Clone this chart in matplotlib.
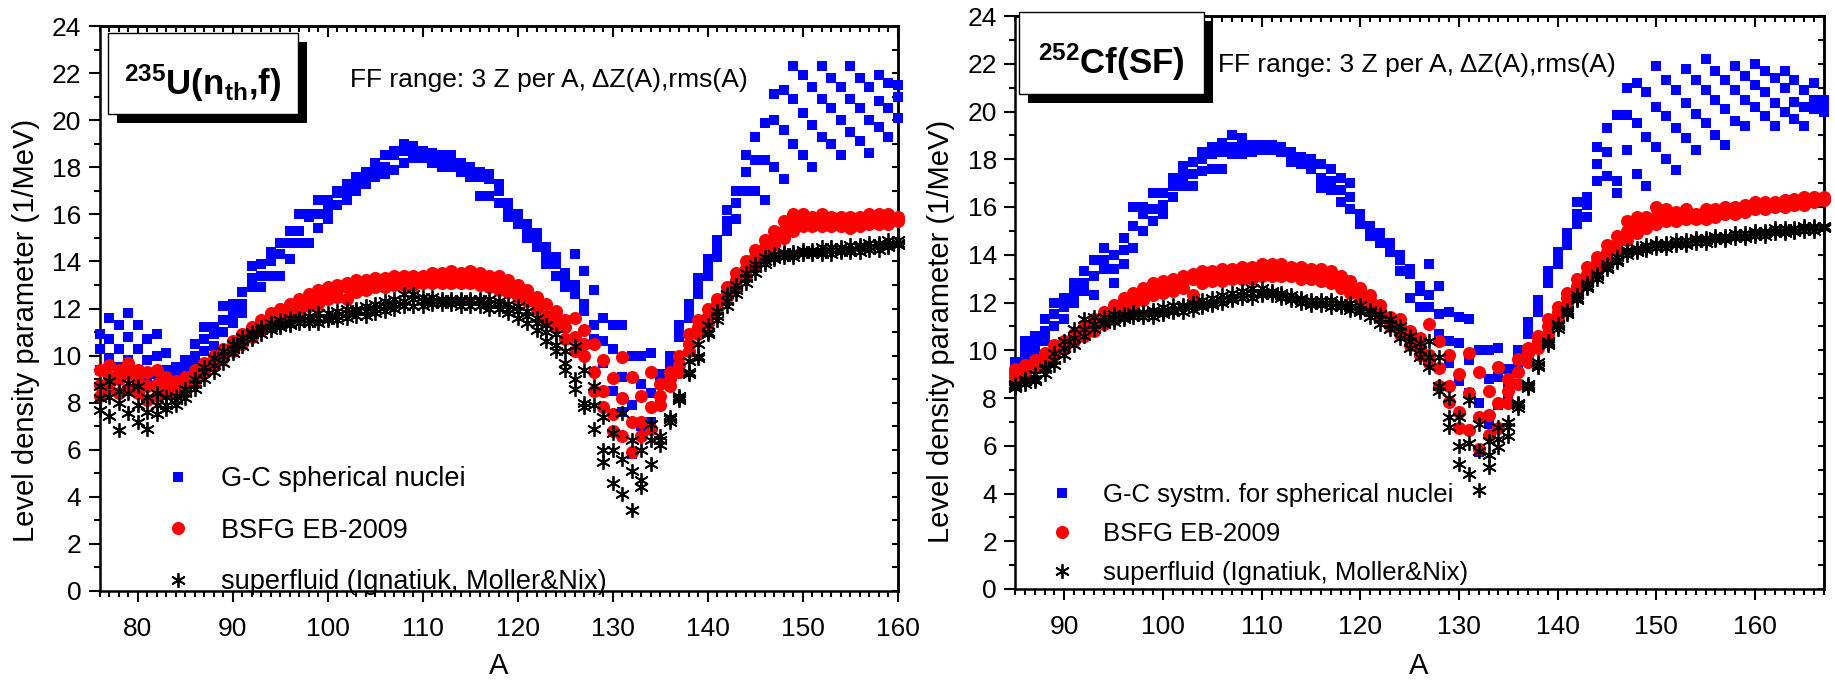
import numpy as np
import matplotlib
matplotlib.use("Agg")
import matplotlib.pyplot as plt
from matplotlib.ticker import MultipleLocator, NullFormatter
from matplotlib.patches import Rectangle

plt.rcParams["font.family"] = ["Liberation Sans", "DejaVu Sans"]
plt.rcParams["mathtext.fontset"] = "custom"
plt.rcParams["mathtext.rm"] = "Liberation Sans"
plt.rcParams["mathtext.bf"] = "Liberation Sans:bold"

W, H = 1835, 681

# ---- 235U(nth,f): level density parameter (1/MeV) vs A, three Z per A ----
u_A = np.arange(76, 161)

u_gc_z1 = [10.9, 11.6, 11.3, 11.8, 11.3, 10.7, 10.9, 10.1, 9.5, 9.8,
           10.5, 11.2, 11.2, 12.1, 12.2, 12.7, 13.8, 13.9, 14.4, 14.8,
           15.3, 16.0, 16.0, 16.6, 16.6, 17.0, 17.3, 17.6, 17.8, 18.2,
           18.5, 18.7, 19.0, 18.9, 18.7, 18.6, 18.5, 18.5, 18.2, 18.0,
           17.8, 17.7, 17.3, 16.5, 16.0, 15.6, 15.2, 14.6, 14.2, 13.5,
           14.3, 13.6, 12.8, 11.6, 11.3, 11.3, 10.0, 10.0, 10.1, 9.2,
           10.0, 11.3, 12.2, 13.3, 14.1, 14.9, 16.2, 17.0, 18.5, 19.3,
           19.9, 21.1, 21.3, 22.3, 21.9, 21.4, 22.3, 21.8, 21.4, 22.3,
           21.8, 21.4, 21.9, 21.6, 21.5]
u_gc_z2 = [10.3, 10.7, 10.3, 10.8, 10.3, 9.8, 10.0, 9.4, 9.2, 9.4,
           10.0, 10.7, 10.9, 11.5, 11.8, 12.2, 13.3, 13.4, 14.0, 14.3,
           14.8, 15.3, 15.9, 16.0, 16.2, 16.9, 17.0, 17.3, 17.6, 18.0,
           18.0, 18.5, 18.7, 18.6, 18.5, 18.5, 18.3, 18.2, 18.0, 17.8,
           17.6, 17.5, 17.0, 16.2, 15.8, 15.3, 14.9, 14.3, 13.9, 13.3,
           13.0, 12.2, 11.3, 10.6, 10.3, 9.1, 7.9, 8.8, 8.4, 8.8,
           9.6, 11.2, 11.9, 13.0, 13.8, 14.6, 15.7, 16.5, 17.8, 18.3,
           18.3, 20.0, 19.6, 20.9, 20.3, 19.8, 20.9, 20.5, 20.0, 20.9,
           20.5, 20.0, 20.8, 20.5, 21.0]
u_gc_z3 = [9.4, 9.9, 9.5, 9.8, 9.4, 9.0, 9.2, 8.8, 8.9, 9.1,
           9.6, 10.2, 10.4, 11.0, 11.4, 11.8, 12.9, 12.9, 13.4, 13.4,
           14.1, 14.8, 14.8, 15.4, 15.8, 16.4, 16.6, 17.0, 17.3, 17.6,
           17.7, 17.9, 18.2, 18.4, 18.4, 18.2, 18.0, 18.0, 17.8, 17.6,
           16.8, 16.8, 16.5, 15.9, 15.6, 15.0, 14.6, 13.9, 13.4, 12.9,
           12.6, 11.9, 10.7, 9.7, 8.5, 7.6, 5.8, 7.0, 7.2, 8.2,
           9.2, 10.8, 11.6, 12.6, 13.4, 14.2, 15.3, 15.8, 17.0, 17.0,
           16.6, 18.0, 17.5, 19.0, 18.5, 18.0, 19.3, 19.0, 18.5, 19.5,
           19.1, 18.6, 19.7, 19.3, 20.1]

u_bsfg_z1 = [9.4, 9.6, 9.4, 9.7, 9.4, 9.3, 9.4, 9.1, 8.9, 9.1,
             9.4, 9.7, 10.0, 10.3, 10.6, 10.9, 11.2, 11.5, 11.8, 12.0,
             12.2, 12.4, 12.6, 12.8, 12.9, 13.0, 13.1, 13.2, 13.2, 13.3,
             13.3, 13.4, 13.4, 13.4, 13.4, 13.5, 13.5, 13.6, 13.5, 13.6,
             13.5, 13.4, 13.4, 13.2, 13.0, 12.8, 12.5, 12.2, 11.9, 11.5,
             11.6, 11.1, 10.5, 9.8, 9.05, 9.95, 9.1, 8.3, 9.3, 8.8,
             9.3, 10.0, 10.9, 11.5, 12.0, 12.4, 12.9, 13.5, 14.0, 14.5,
             14.9, 15.3, 15.7, 16.0, 16.0, 15.9, 16.0, 15.9, 15.9, 15.9,
             15.9, 16.0, 16.0, 16.0, 15.9]
u_bsfg_z2 = [8.75, 9.1, 9.0, 9.2, 8.9, 8.7, 8.8, 8.7, 8.6, 8.8,
             9.1, 9.5, 9.8, 10.1, 10.4, 10.7, 11.0, 11.3, 11.5, 11.8,
             12.0, 12.2, 12.4, 12.5, 12.7, 12.8, 12.9, 13.0, 13.1, 13.1,
             13.2, 13.2, 13.2, 13.3, 13.3, 13.3, 13.3, 13.4, 13.3, 13.4,
             13.3, 13.2, 13.1, 13.0, 12.8, 12.6, 12.2, 11.7, 11.7, 11.2,
             10.8, 10.5, 9.3, 8.5, 7.5, 8.2, 7.2, 7.2, 7.8, 8.3,
             9.0, 9.6, 10.5, 11.2, 11.7, 12.2, 12.7, 13.2, 13.7, 14.2,
             14.6, 15.0, 15.3, 15.6, 15.7, 15.7, 15.8, 15.7, 15.7, 15.7,
             15.8, 15.8, 15.8, 15.8, 15.8]
u_bsfg_z3 = [8.3, 8.6, 8.4, 8.6, 8.4, 8.1, 8.3, 8.4, 8.4, 8.6,
             8.9, 9.3, 9.6, 9.9, 10.2, 10.5, 10.8, 11.1, 11.3, 11.5,
             11.7, 11.9, 12.1, 12.2, 12.4, 12.5, 12.4, 12.7, 12.8, 12.9,
             12.9, 13.0, 13.0, 13.0, 13.1, 13.1, 13.1, 13.1, 13.1, 13.1,
             13.0, 12.9, 12.8, 12.7, 12.5, 12.3, 12.0, 11.5, 11.2, 10.7,
             10.2, 10.0, 8.5, 7.8, 6.8, 6.6, 5.9, 6.6, 6.9, 7.9,
             8.7, 9.3, 10.2, 10.9, 11.4, 12.0, 12.5, 12.9, 13.4, 13.9,
             14.3, 14.7, 15.0, 15.3, 15.5, 15.5, 15.5, 15.5, 15.5, 15.4,
             15.5, 15.6, 15.6, 15.6, 15.7]

u_sf_z1 = [8.7, 8.9, 8.5, 8.85, 8.7, 8.25, 8.4, 8.25, 8.3, 8.6,
           9.0, 9.5, 9.9, 10.2, 10.5, 10.8, 11.0, 11.2, 11.4, 11.5,
           11.6, 11.6, 11.7, 11.8, 11.8, 11.9, 12.0, 12.0, 12.1, 12.2,
           12.3, 12.4, 12.6, 12.6, 12.5, 12.5, 12.4, 12.4, 12.4, 12.4,
           12.4, 12.4, 12.3, 12.2, 12.1, 11.9, 11.6, 11.3, 10.9, 10.2,
           10.4, 9.4, 8.7, 7.4, 6.7, 7.55, 6.4, 6.0, 7.1, 6.6,
           7.4, 8.3, 9.75, 10.5, 11.3, 11.9, 12.6, 13.0, 13.5, 13.9,
           14.2, 14.3, 14.4, 14.4, 14.5, 14.5, 14.6, 14.6, 14.6, 14.7,
           14.7, 14.8, 14.8, 14.9, 14.9]
u_sf_z2 = [8.2, 8.25, 8.0, 8.4, 7.9, 7.6, 7.9, 7.9, 8.1, 8.4,
           8.8, 9.3, 9.6, 10.0, 10.3, 10.6, 10.9, 11.1, 11.2, 11.3,
           11.4, 11.5, 11.5, 11.6, 11.6, 11.7, 11.8, 11.9, 11.9, 12.0,
           12.1, 12.2, 12.3, 12.4, 12.3, 12.3, 12.3, 12.3, 12.3, 12.3,
           12.3, 12.2, 12.2, 12.0, 11.9, 11.7, 11.4, 11.0, 10.45, 9.7,
           9.0, 8.0, 7.9, 6.0, 6.0, 5.6, 5.1, 4.7, 6.4, 6.4,
           7.3, 8.2, 9.3, 10.0, 11.0, 11.7, 12.3, 12.8, 13.3, 13.7,
           14.0, 14.2, 14.3, 14.3, 14.4, 14.4, 14.4, 14.5, 14.5, 14.5,
           14.6, 14.6, 14.7, 14.7, 14.8]
u_sf_z3 = [7.7, 7.45, 6.85, 7.55, 7.2, 6.9, 7.5, 7.75, 7.9, 8.2,
           8.6, 9.0, 9.3, 9.7, 10.1, 10.4, 10.7, 10.9, 11.1, 11.2,
           11.3, 11.4, 11.4, 11.4, 11.5, 11.5, 11.6, 11.7, 11.7, 11.8,
           11.9, 12.0, 12.1, 12.1, 12.1, 12.2, 12.2, 12.2, 12.1, 12.1,
           12.1, 12.0, 12.0, 11.8, 11.6, 11.4, 11.1, 10.6, 10.2, 9.4,
           8.6, 7.8, 6.9, 5.5, 4.6, 4.1, 3.45, 4.4, 5.4, 6.2,
           7.2, 8.1, 9.2, 9.9, 10.9, 11.5, 12.1, 12.6, 13.1, 13.5,
           13.9, 14.1, 14.2, 14.2, 14.3, 14.3, 14.3, 14.3, 14.4, 14.4,
           14.4, 14.5, 14.5, 14.6, 14.7]

# ---- 252Cf(SF) ----
c_A = np.arange(85, 168)

c_gc_z1 = [9.5, 10.4, 10.6, 11.3, 12.0, 12.2, 12.8, 13.3, 13.8, 14.3,
           14.0, 14.7, 16.0, 16.0, 16.6, 16.6, 17.2, 17.7, 17.9, 18.3,
           18.5, 18.7, 19.0, 18.9, 18.6, 18.6, 18.6, 18.5, 18.3, 18.1,
           18.0, 17.8, 17.6, 17.2, 17.0, 15.7, 15.2, 14.9, 14.5, 14.0,
           13.4, 12.7, 13.6, 12.7, 11.6, 11.4, 11.3, 10.0, 10.0, 10.1,
           9.2, 10.0, 11.2, 12.1, 13.3, 14.1, 14.9, 16.2, 16.4, 18.5,
           19.3, 19.85, 21.0, 21.2, 20.8, 21.9, 21.3, 20.9, 21.8, 21.3,
           22.2, 21.7, 21.3, 21.9, 21.5, 22.0, 21.7, 21.4, 21.7, 21.3,
           20.9, 21.2, 20.5]
c_gc_z2 = [9.3, 10.0, 10.3, 10.8, 11.5, 11.8, 12.4, 12.8, 13.1, 13.8,
           13.4, 14.2, 15.2, 15.7, 15.9, 16.1, 16.9, 17.3, 17.4, 18.0,
           18.2, 18.3, 18.5, 18.5, 18.4, 18.5, 18.5, 18.4, 18.1, 18.0,
           17.8, 17.2, 17.1, 16.7, 16.4, 15.5, 15.0, 14.7, 14.3, 13.8,
           13.2, 12.5, 12.3, 11.5, 10.4, 10.3, 9.6, 7.8, 8.8, 8.9,
           8.6, 9.6, 11.0, 11.9, 13.1, 13.9, 14.7, 15.7, 16.1, 17.8,
           18.3, 17.1, 19.85, 19.5, 18.95, 20.2, 19.8, 19.3, 20.35, 19.9,
           20.9, 20.5, 20.1, 20.9, 20.5, 21.1, 20.8, 20.35, 21.0, 20.4,
           20.2, 20.5, 20.2]
c_gc_z3 = [9.1, 9.6, 9.9, 10.4, 11.0, 11.3, 12.0, 12.5, 12.3, 13.4,
           12.8, 13.6, 14.3, 15.0, 15.4, 15.7, 16.4, 16.9, 16.9, 17.5,
           17.6, 17.6, 18.2, 18.2, 18.3, 18.4, 18.4, 18.3, 17.9, 17.8,
           17.6, 16.8, 16.7, 16.2, 15.9, 15.3, 14.8, 14.5, 14.1, 13.3,
           12.2, 11.8, 11.8, 10.7, 9.45, 8.7, 8.2, 5.75, 6.9, 7.7,
           8.1, 9.3, 10.7, 11.6, 12.8, 13.6, 14.4, 15.3, 15.6, 17.1,
           17.3, 16.6, 18.4, 17.4, 16.9, 18.5, 18.0, 17.55, 18.9, 18.4,
           19.5, 19.0, 18.6, 19.6, 19.4, 20.2, 19.8, 19.4, 20.0, 19.7,
           19.4, 20.1, 20.0]

c_bsfg_z1 = [9.2, 9.4, 9.6, 9.9, 10.2, 10.4, 10.7, 11.0, 11.3, 11.6,
             11.9, 12.2, 12.4, 12.6, 12.8, 12.9, 13.0, 13.1, 13.2, 13.3,
             13.3, 13.4, 13.4, 13.5, 13.5, 13.6, 13.6, 13.6, 13.5, 13.5,
             13.4, 13.4, 13.3, 13.1, 12.9, 12.6, 12.3, 11.9, 11.4, 11.3,
             10.8, 10.5, 11.1, 10.4, 9.8, 9.0, 9.9, 9.1, 8.3, 9.3,
             8.8, 9.65, 10.1, 10.6, 11.3, 11.8, 12.4, 13.0, 13.5, 13.9,
             14.4, 14.8, 15.4, 15.6, 15.6, 16.0, 15.9, 15.8, 15.9, 15.7,
             15.9, 15.9, 16.0, 16.0, 16.1, 16.2, 16.2, 16.2, 16.3, 16.35,
             16.4, 16.4, 16.4]
c_bsfg_z2 = [9.1, 9.2, 9.5, 9.7, 10.0, 10.3, 10.6, 10.8, 11.1, 11.4,
             11.7, 11.9, 12.2, 12.4, 12.6, 12.7, 12.8, 12.9, 13.0, 13.1,
             13.1, 13.2, 13.2, 13.3, 13.3, 13.4, 13.4, 13.4, 13.3, 13.3,
             13.2, 13.2, 13.1, 12.9, 12.7, 12.4, 12.1, 11.7, 11.2, 11.0,
             10.5, 10.1, 9.8, 9.25, 8.5, 7.4, 8.2, 7.2, 7.3, 7.8,
             8.3, 9.1, 9.9, 10.4, 11.0, 11.6, 12.2, 12.7, 13.2, 13.7,
             14.1, 14.5, 15.0, 15.2, 15.3, 15.6, 15.6, 15.6, 15.7, 15.6,
             15.7, 15.8, 15.8, 15.9, 15.9, 16.0, 16.0, 16.1, 16.1, 16.2,
             16.2, 16.3, 16.35]
c_bsfg_z3 = [8.9, 9.0, 9.3, 9.5, 9.8, 10.1, 10.4, 10.6, 10.8, 11.1,
             11.3, 11.6, 11.8, 12.1, 12.3, 12.4, 12.5, 12.6, 12.3, 12.8,
             12.9, 12.9, 13.0, 13.0, 13.0, 13.1, 13.1, 13.1, 13.1, 13.0,
             13.0, 12.9, 12.8, 12.6, 12.4, 12.1, 11.8, 11.4, 11.0, 10.7,
             10.2, 9.8, 9.45, 8.5, 7.85, 6.75, 6.65, 5.85, 6.45, 6.75,
             7.8, 8.6, 9.5, 10.1, 10.7, 11.3, 11.9, 12.4, 12.9, 13.4,
             13.8, 14.2, 14.6, 14.9, 15.1, 15.3, 15.4, 15.4, 15.5, 15.5,
             15.5, 15.6, 15.7, 15.7, 15.8, 15.9, 15.9, 16.0, 16.0, 16.1,
             16.1, 16.2, 16.3]

c_sf_z1 = [8.6, 8.8, 9.0, 9.3, 9.9, 10.4, 10.9, 11.3, 11.4, 11.4,
           11.5, 11.5, 11.6, 11.6, 11.7, 11.8, 11.9, 11.9, 12.0, 12.1,
           12.2, 12.3, 12.4, 12.5, 12.6, 12.6, 12.5, 12.4, 12.3, 12.2,
           12.1, 12.1, 12.1, 12.0, 12.0, 11.9, 11.7, 11.5, 11.3, 11.0,
           10.6, 10.3, 10.4, 9.7, 8.0, 7.2, 7.9, 6.9, 6.2, 6.8,
           7.0, 7.8, 8.6, 9.5, 10.4, 11.1, 11.7, 12.3, 12.8, 13.2,
           13.6, 13.9, 14.2, 14.3, 14.4, 14.5, 14.5, 14.6, 14.6, 14.7,
           14.7, 14.8, 14.8, 14.9, 14.9, 15.0, 15.0, 15.1, 15.1, 15.1,
           15.2, 15.2, 15.2]
c_sf_z2 = [8.5, 8.7, 8.8, 9.2, 9.6, 10.1, 10.5, 10.9, 11.1, 11.2,
           11.3, 11.4, 11.5, 11.5, 11.6, 11.6, 11.7, 11.8, 11.9, 11.9,
           12.0, 12.1, 12.2, 12.3, 12.4, 12.4, 12.4, 12.3, 12.2, 12.1,
           12.0, 12.0, 12.0, 11.9, 11.8, 11.7, 11.6, 11.3, 11.1, 10.8,
           10.4, 10.0, 9.7, 8.5, 7.2, 6.0, 6.1, 5.8, 5.6, 6.3,
           6.8, 7.7, 8.5, 9.4, 10.3, 11.0, 11.6, 12.2, 12.7, 13.1,
           13.5, 13.8, 14.1, 14.2, 14.3, 14.4, 14.4, 14.5, 14.5, 14.6,
           14.6, 14.7, 14.7, 14.8, 14.8, 14.9, 14.9, 15.0, 15.0, 15.0,
           15.1, 15.1, 15.15]
c_sf_z3 = [8.4, 8.6, 8.7, 9.0, 9.4, 9.8, 10.2, 10.6, 10.9, 11.1,
           11.2, 11.3, 11.4, 11.4, 11.4, 11.5, 11.6, 11.6, 11.7, 11.8,
           11.9, 12.0, 12.1, 12.2, 12.2, 12.3, 12.3, 12.2, 12.1, 12.0,
           11.9, 11.9, 11.8, 11.8, 11.7, 11.6, 11.4, 11.1, 10.9, 10.5,
           10.1, 9.7, 9.3, 8.3, 6.8, 5.25, 4.8, 4.15, 5.1, 5.95,
           6.4, 7.6, 8.4, 9.3, 10.2, 10.9, 11.5, 12.1, 12.6, 13.0,
           13.4, 13.7, 14.0, 14.1, 14.2, 14.3, 14.3, 14.4, 14.4, 14.5,
           14.5, 14.6, 14.6, 14.7, 14.7, 14.8, 14.8, 14.9, 14.9, 14.95,
           15.0, 15.0, 15.1]

BLUE = "#0000ff"
RED = "#ff0000"
STAR = (6, 2, 0)


def px(x, y):
    """pixel position (from top-left) -> figure fraction"""
    return x / W, 1 - y / H


def draw_panel(ax, A, gc, bsfg, sf, xlim, gc_label):
    for i, z in enumerate(gc):
        ax.plot(A, z, ls="none", marker="s", ms=7.4, mfc=BLUE, mec=BLUE, mew=0,
                clip_on=False, zorder=3, label=gc_label if i == 0 else None)
    for i, z in enumerate(bsfg):
        ax.plot(A, z, ls="none", marker="o", ms=9.4, mfc=RED, mec=RED, mew=0,
                clip_on=False, zorder=4, label="BSFG EB-2009" if i == 0 else None)
    for i, z in enumerate(sf):
        ax.plot(A, z, ls="none", marker=STAR, ms=10.5, mec="k", mew=1.3,
                clip_on=False, zorder=5,
                label="superfluid (Ignatiuk, Moller&Nix)" if i == 0 else None)

    ax.set_xlim(*xlim)
    ax.set_ylim(0, 24)
    ax.xaxis.set_major_locator(MultipleLocator(10))
    ax.xaxis.set_minor_locator(MultipleLocator(1))
    ax.yaxis.set_major_locator(MultipleLocator(2))
    ax.yaxis.set_minor_locator(MultipleLocator(1))
    ax.tick_params(which="both", direction="out", width=1.5, labelsize=19,
                   top=False, right=False)
    ax.tick_params(axis="x", which="both", pad=11)
    ax.tick_params(axis="y", which="both", pad=5)
    ax.tick_params(which="major", length=8)
    ax.tick_params(which="minor", length=4.5)
    for s in ax.spines.values():
        s.set_linewidth(1.8)

    # mirrored axes with inward ticks
    top = ax.secondary_xaxis("top")
    top.xaxis.set_major_locator(MultipleLocator(10))
    top.xaxis.set_minor_locator(MultipleLocator(1))
    top.xaxis.set_major_formatter(NullFormatter())
    top.tick_params(which="both", direction="in", width=1.5)
    top.tick_params(which="major", length=8)
    top.tick_params(which="minor", length=4.5)
    top.spines["top"].set_linewidth(1.8)

    right = ax.secondary_yaxis("right")
    right.yaxis.set_major_locator(MultipleLocator(2))
    right.yaxis.set_minor_locator(MultipleLocator(1))
    right.yaxis.set_major_formatter(NullFormatter())
    right.tick_params(which="both", direction="in", width=1.5, length=4.5)
    right.spines["right"].set_linewidth(1.8)


def title_box(fig, x0, y0, x1, y1, text, tx, ty):
    sx, sy = px(x0 + 9, y1 + 9)
    fig.add_artist(Rectangle((sx, sy), (x1 - x0) / W, (y1 - y0) / H,
                             transform=fig.transFigure, fc="k", ec="k", lw=0))
    bx, by = px(x0, y1)
    fig.add_artist(Rectangle((bx, by), (x1 - x0) / W, (y1 - y0) / H,
                             transform=fig.transFigure, fc="white", ec="k", lw=1.0))
    fig.text(*px(tx, ty), text, fontsize=25, fontweight="bold",
             ha="center", va="baseline", zorder=6)


fig = plt.figure(figsize=(W / 100, H / 100), dpi=100)
ax1 = fig.add_axes([99.5 / W, 1 - 591 / H, 798.5 / W, 565 / H])
ax2 = fig.add_axes([1015 / W, 1 - 589 / H, 809 / W, 573 / H])

draw_panel(ax1, u_A, [u_gc_z1, u_gc_z2, u_gc_z3],
           [u_bsfg_z1, u_bsfg_z2, u_bsfg_z3], [u_sf_z1, u_sf_z2, u_sf_z3],
           (76, 160), "G-C spherical nuclei")
draw_panel(ax2, c_A, [c_gc_z1, c_gc_z2, c_gc_z3],
           [c_bsfg_z1, c_bsfg_z2, c_bsfg_z3], [c_sf_z1, c_sf_z2, c_sf_z3],
           (85, 167), "G-C systm. for spherical nuclei")

# legends: (anchor x, anchor y, font size, row spacing)
for ax, (lx, ly, fs, sp) in ((ax1, (164, 466, 19.5, 0.95)),
                             (ax2, (1049, 483, 18.5, 0.59))):
    ax.legend(loc="upper left", bbox_to_anchor=px(lx, ly),
              bbox_transform=fig.transFigure, frameon=False, fontsize=fs,
              borderpad=0, borderaxespad=0, handlelength=1.0,
              handletextpad=1.12, labelspacing=sp, markerscale=1.0)

ylab = "Level density parameter (1/MeV)"
fig.text(*px(26, 330), ylab, rotation=90, ha="center", va="center", fontsize=21)
fig.text(*px(941, 331), ylab, rotation=90, ha="center", va="center", fontsize=21)
fig.text(*px(499, 666), "A", ha="center", va="center", fontsize=21)
fig.text(*px(1419, 666), "A", ha="center", va="center", fontsize=21)

fig.text(*px(350, 87), "FF range: 3 Z per A, \u0394Z(A),rms(A)", fontsize=19,
         ha="left", va="baseline")
fig.text(*px(1218, 72), "FF range: 3 Z per A, \u0394Z(A),rms(A)", fontsize=19,
         ha="left", va="baseline")

title_box(fig, 108, 33, 298, 114, r"$\mathbf{^{235}U(n_{th}{,}f)}$", 203, 95)
title_box(fig, 1019, 12, 1204, 94, r"$\mathbf{^{252}Cf(SF)}$", 1111, 74)

fig.savefig("out.png", dpi=100)
